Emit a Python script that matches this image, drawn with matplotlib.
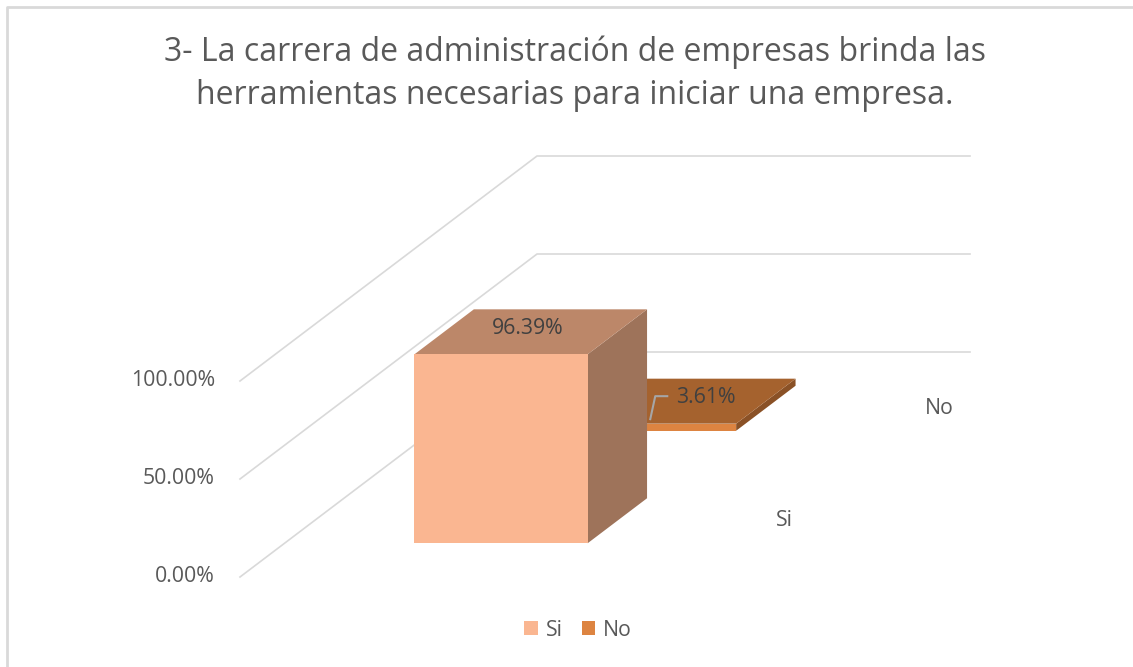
import matplotlib
matplotlib.use("Agg")
import matplotlib.pyplot as plt
from matplotlib.patches import Polygon, Patch

plt.rcParams['font.family'] = ['Open Sans', 'DejaVu Sans']

# data
series = ["Si", "No"]
values = [0.9639, 0.0361]
ticks = [0.0, 0.5, 1.0]
title_lines = ["3- La carrera de administración de empresas brinda las",
               "herramientas necesarias para iniciar una empresa."]

front_colors = ["#FAB691", "#DD8441"]
top_colors = ["#BC8769", "#A5622E"]
side_colors = ["#9E735A", "#8A5126"]

# oblique projection of the 3D box (pixel units, y grows downward)
X0, Y0 = 240, 577        # front-left corner of floor
CW = 433                 # category width
DX, DY = 297, 225        # full depth offset
ZS = 196                 # pixels per 100%
bar_w = 0.4
bar_d = 0.2


def proj(u, v, z):
    return (X0 + CW * u + DX * v, Y0 - ZS * z - DY * v)


fig = plt.figure(figsize=(11.33, 6.67), dpi=100)
ax = fig.add_axes([0, 0, 1, 1])
ax.set_xlim(0, 1133)
ax.set_ylim(667, 0)
ax.axis("off")

# chart border (left and top only visible)
ax.plot([7, 7, 1140], [670, 7, 7], color="#D9D9D9", lw=2, zorder=1, clip_on=False)

# gridlines on side and back walls
for t in ticks:
    pts = [proj(0, 0, t), proj(0, 1, t), proj(1, 1, t)]
    ax.plot([p[0] for p in pts], [p[1] for p in pts], color="#D9D9D9", lw=1.2, zorder=1)
    x, y = proj(0, 0, t)
    ax.text(x - 25, y, f"{t:.2%}", ha="right", va="center", fontsize=15.3, color="#595959")

# bars, back series first
n = len(series)
for i in reversed(range(n)):
    u0, u1 = 0.5 - bar_w / 2, 0.5 + bar_w / 2
    vc = (i + 0.5) / n
    v0, v1 = vc - bar_d / 2, vc + bar_d / 2
    h = values[i]
    front = [proj(u0, v0, 0), proj(u1, v0, 0), proj(u1, v0, h), proj(u0, v0, h)]
    top = [proj(u0, v0, h), proj(u1, v0, h), proj(u1, v1, h), proj(u0, v1, h)]
    side = [proj(u1, v0, 0), proj(u1, v1, 0), proj(u1, v1, h), proj(u1, v0, h)]
    z = 3 + (n - i) * 2
    ax.add_patch(Polygon(side, closed=True, fc=side_colors[i], ec="none", zorder=z))
    ax.add_patch(Polygon(top, closed=True, fc=top_colors[i], ec="none", zorder=z))
    ax.add_patch(Polygon(front, closed=True, fc=front_colors[i], ec="none", zorder=z))

    # data labels at the centre of the top face
    cx, cy = proj(0.5, vc, h)
    if h > 0.5:
        ax.text(cx - 3, cy - 3, f"{h:.2%}", ha="center", va="center", fontsize=15.3,
                color="#404040", zorder=20)
    else:
        lx, ly = cx + 27, cy - 4
        ax.plot([cx - 29, cx - 24, cx - 12], [cy + 18, cy - 5, cy - 5],
                color="#A6A6A6", lw=1.5, zorder=z + 1)
        ax.text(lx, ly, f"{h:.2%}", ha="center", va="center", fontsize=15.3,
                color="#404040", zorder=z + 1)

    # series (depth) axis labels
    sx, sy = proj(1, vc, 0)
    ax.text(sx + 29, sy, series[i], ha="left", va="center", fontsize=15.3, color="#595959")

for k, line in enumerate(title_lines):
    ax.text(575, 52 + 43 * k, line, ha="center", va="center", fontsize=23, color="#595959")

handles = [Patch(fc=front_colors[i], ec="none", label=series[i]) for i in range(n)]
fig.legend(handles=handles, loc="center", bbox_to_anchor=(578 / 1133, 1 - 630 / 667),
           ncol=2, frameon=False, fontsize=15.3, handlelength=0.65, handleheight=0.65,
           handletextpad=0.35, columnspacing=0.9, labelcolor="#595959")

fig.savefig("out.png", dpi=100)
